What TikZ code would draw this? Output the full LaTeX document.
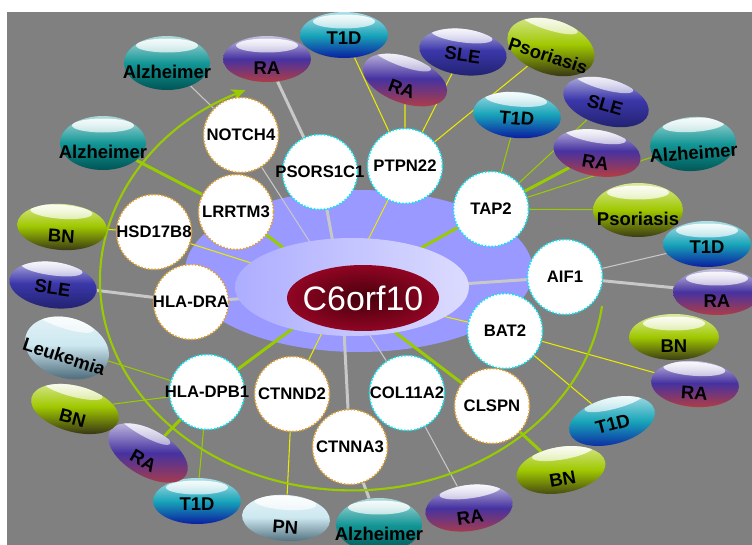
\documentclass[tikz,border=0pt]{standalone}
\usepackage{fontspec}
\setmainfont{Liberation Sans}
\usetikzlibrary{shapes.geometric,arrows.meta,fadings}
\pgfdeclarelayer{back}
\pgfdeclarelayer{links}
\pgfsetlayers{back,links,main}
\definecolor{bggray}{RGB}{128,128,128}
\definecolor{lav}{RGB}{153,153,255}
\definecolor{lime}{RGB}{153,204,0}
\definecolor{lnyellow}{RGB}{235,235,0}
\definecolor{lngray}{RGB}{200,200,200}
\definecolor{ringcyan}{RGB}{0,235,245}
\definecolor{ringorange}{RGB}{225,160,40}
\definecolor{raTop}{RGB}{70,50,160}
\definecolor{raBot}{RGB}{175,60,70}
\definecolor{tidTop}{RGB}{25,165,185}
\definecolor{tidBot}{RGB}{10,30,160}
\definecolor{sleTop}{RGB}{60,55,170}
\definecolor{sleBot}{RGB}{35,35,115}
\definecolor{alzTop}{RGB}{20,150,150}
\definecolor{alzBot}{RGB}{0,85,85}
\definecolor{bnTop}{RGB}{160,200,0}
\definecolor{bnBot}{RGB}{60,60,20}
\definecolor{paleTop}{RGB}{205,232,240}
\definecolor{paleBot}{RGB}{85,115,130}
\definecolor{hubIn}{RGB}{70,0,12}
\definecolor{hubOut}{RGB}{145,5,35}
\tikzfading[name=gloss,top color=transparent!5,bottom color=transparent!100]

\begin{document}
\begin{tikzpicture}[x=0.02cm,y=-0.02cm,
    gene/.style={circle,fill=white,draw,densely dotted,line width=0.9pt,
        minimum size=1.5cm,inner sep=0pt,font=\fontsize{9.5}{10}\selectfont\bfseries},
    cy/.style={gene,draw=ringcyan},
    og/.style={gene,draw=ringorange},
    dis/.style={ellipse,minimum width=1.76cm,minimum height=0.92cm,inner sep=0pt,
        font=\fontsize{10.5}{11}\selectfont\bfseries,text height=10.9pt,text depth=0pt,
        path picture={\fill[white,path fading=gloss] ([yshift=-0.19cm]path picture bounding box.north)
            ellipse [x radius=0.62cm,y radius=0.14cm];}},
    lowtext/.style={text height=17.7pt},
    ra/.style={dis,lowtext,top color=raTop!30!white,bottom color=raBot,middle color=raTop},
    tid/.style={dis,top color=tidTop!35!white,bottom color=tidBot,middle color=tidTop},
    sle/.style={dis,top color=sleTop!35!white,bottom color=sleBot,middle color=sleTop},
    alz/.style={dis,lowtext,minimum width=1.72cm,minimum height=1.08cm,
        top color=alzTop!35!white,bottom color=alzBot,middle color=alzTop},
    bn/.style={dis,lowtext,minimum width=1.8cm,top color=bnTop!40!white,bottom color=bnBot,middle color=bnTop},
    pso/.style={bn,minimum height=1.08cm},
    pale/.style={dis,lowtext,top color=paleTop!50!white,bottom color=paleBot,middle color=paleTop},
    leu/.style={pale,minimum width=1.72cm,minimum height=1.2cm},
    thn/.style={line width=0.6pt},
    thk/.style={line width=1.7pt}]
    \useasboundingbox (0,0) rectangle (752,545);
    \coordinate (hub) at (342,292);
    \coordinate (arcA) at (602,306);

    \shade[left color=lav!80!white,middle color=white,right color=lav!35!white]
        (352,287) ellipse [x radius=2.34cm,y radius=0.98cm];
    \node[ellipse,inner color=hubIn,outer color=hubOut,minimum width=3.04cm,minimum height=1.32cm,
        inner sep=0pt,text=white,font=\fontsize{19.3}{20}\selectfont] (c6) at (363,298)
        {\makebox[0pt]{C6orf10}};

    \foreach \n/\p/\s/\t in {notch/{241,135}/og/NOTCH4, psors/{320,172}/cy/PSORS1C1,
        lrrtm/{236,212}/og/LRRTM3, hsd/{154,232}/og/HSD17B8, ptpn/{405,166}/cy/PTPN22,
        tap/{491,209}/cy/TAP2, aif/{565,277}/cy/AIF1, bat/{505,331}/cy/BAT2,
        clspn/{492,406}/og/CLSPN, col/{407,393}/cy/COL11A2, ctnna/{350,447}/og/CTNNA3,
        ctnnd/{292,394}/og/CTNND2, dpb/{207,392}/cy/HLA-DPB1, dra/{191,302}/og/HLA-DRA} {
        \node[\s] (\n) at (\p) {\makebox[0pt]{\t}};
    }

    \foreach \n/\p/\s/\r/\t in {alz1/{167,63}/alz/0/Alzheimer, ra1/{267,59}/ra/0/RA,
        t1d1/{344,35}/tid/0/T1D, alz2/{103,143}/alz/0/Alzheimer, bn1/{62,227}/bn/-4/BN,
        ra2/{405,80}/ra/-20/RA, sle1/{463,52}/sle/-8/SLE, pso1/{551,47}/pso/-18/Psoriasis,
        t1d2/{517,115}/tid/-5/T1D, sle2/{606,102}/sle/-16/SLE, ra3/{597,153}/ra/-10/RA,
        alz3/{693,144}/alz/4/Alzheimer, pso2/{638,210}/pso/0/Psoriasis, t1d3/{707,244}/tid/0/T1D,
        ra4/{717,292}/ra/0/RA, bn2/{674,337}/bn/0/BN, ra5/{695,384}/ra/-4/RA,
        t1d4/{612,421}/tid/15/T1D, bn3/{561,470}/bn/10/BN, ra6/{469,508}/ra/8/RA,
        alz4/{379,525}/alz/0/Alzheimer, pn/{286,518}/pale/-4/PN, t1d5/{197,501}/tid/0/T1D,
        ra7/{148,453}/ra/-30/RA, bn4/{75,409}/bn/-15/BN, leu/{67,348}/leu/-18/Leukemia,
        sle3/{53,285}/sle/-8/SLE} {
        \node[\s,rotate=\r] (\n) at (\p) {\makebox[0pt]{\t}};
    }

    \begin{pgfonlayer}{back}
        \fill[white] (0,0) rectangle (752,545);
        \fill[bggray] (7,12) rectangle (752,545);
        \fill[lav] (359,271) ellipse [x radius=3.48cm,y radius=1.62cm];
    \end{pgfonlayer}

    \begin{pgfonlayer}{links}
        \foreach \b/\c/\w in {notch/lngray/thn, psors/lngray/thk, ptpn/lnyellow/thn,
            tap/lime/thk, aif/lngray/thk, bat/lnyellow/thn, clspn/lime/thk, col/lngray/thn,
            ctnna/lngray/thk, ctnnd/lnyellow/thn, dpb/lime/thk, dra/lngray/thk,
            hsd/lnyellow/thn, lrrtm/lime/thk} {
            \draw[\c,\w] (hub) -- (\b);
        }
        \foreach \a/\b/\c/\w in {notch/alz1/lngray/thn, psors/ra1/lngray/thk,
            ptpn/t1d1/lnyellow/thn, ptpn/ra2/lnyellow/thn, ptpn/sle1/lnyellow/thn,
            ptpn/pso1/lnyellow/thn, tap/t1d2/lime/thn, tap/sle2/lime/thn, tap/ra3/lime/thk,
            tap/alz3/lime/thn, tap/pso2/lime/thn, aif/t1d3/lngray/thn, aif/ra4/lngray/thk,
            bat/ra5/lnyellow/thn, bat/t1d4/lnyellow/thn, clspn/bn3/lime/thk,
            col/ra6/lngray/thn, ctnna/alz4/lngray/thk, ctnnd/pn/lnyellow/thn,
            dpb/leu/lime/thn, dpb/bn4/lime/thn, dpb/ra7/lime/thk, dpb/t1d5/lime/thn,
            dra/sle3/lngray/thk, hsd/bn1/lnyellow/thn, lrrtm/alz2/lime/thk} {
            \draw[\c,\w] (\a) -- (\b);
        }
        \draw[lime,line width=1.2pt,-{Stealth[length=8pt,width=7pt]}] (arcA)
            arc[start angle=-7,end angle=-245,x radius=5.04cm,y radius=4.2cm];
    \end{pgfonlayer}
\end{tikzpicture}
\end{document}
